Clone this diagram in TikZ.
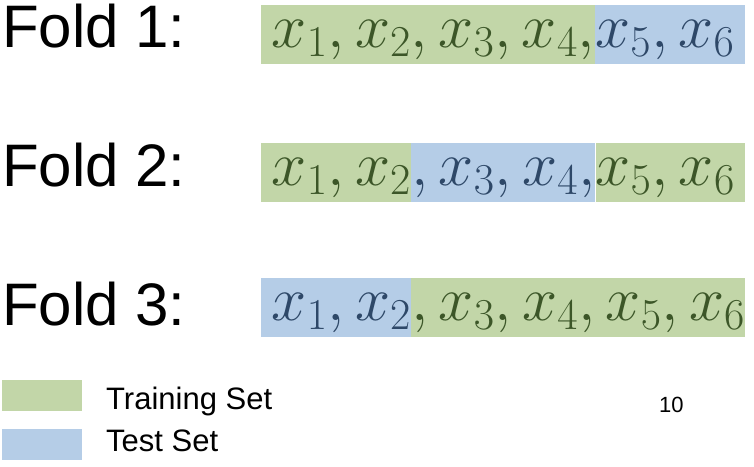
\documentclass[tikz,border=0pt]{standalone}
\usepackage{fix-cm}
\usepackage{fontspec}
\newfontfamily\labelfont{Liberation Sans}
\usetikzlibrary{positioning}
\definecolor{trainfill}{RGB}{194,214,168}
\definecolor{testfill}{RGB}{181,205,231}
\definecolor{traintext}{RGB}{60,86,40}
\definecolor{testtext}{RGB}{46,72,104}

\begin{document}
\begin{tikzpicture}[x=1pt, y=-1pt,
	foldlabel/.style={font=\labelfont\fontsize{60}{60}\selectfont, inner sep=0pt, anchor=base west},
	seg/.style={inner xsep=0pt, inner ysep=0pt, text height=42pt, text depth=17pt, font=\fontsize{63}{63}\selectfont},
	train/.style={seg, fill=trainfill, text=traintext},
	test/.style={seg, fill=testfill, text=testtext},
	legbox/.style={minimum width=80pt, minimum height=31pt, inner sep=0pt, anchor=north west},
	legtext/.style={font=\labelfont\fontsize{31}{31}\selectfont, inner sep=0pt, anchor=base west}]
	\useasboundingbox (0,0) rectangle (754,466);

	% fold 1
	\node[foldlabel] (f1) at (2,47) {Fold 1:};
	\node[train, anchor=base west] (f1a) at (261,47) {$\,x_1, x_2, x_3, x_4,$};
	\node[test, right=0pt of f1a] (f1b) {$x_5, x_6\,$};

	% fold 2
	\node[foldlabel] (f2) at (2,186) {Fold 2:};
	\node[train, anchor=base west] (f2a) at (261,185) {$\,x_1, x_2$};
	\node[test, right=0pt of f2a] (f2b) {$, x_3, x_4,$};
	\node[train, right=0pt of f2b] (f2c) {$x_5, x_6\,$};

	% fold 3
	\node[foldlabel] (f3) at (2,325) {Fold 3:};
	\node[test, anchor=base west] (f3a) at (261,320) {$\,x_1, x_2$};
	\node[train, right=0pt of f3a] (f3b) {$, x_3, x_4, x_5, x_6$\hspace{4pt}};

	% legend
	\node[legbox, fill=trainfill] (ltrain) at (2,380) {};
	\node[legtext] (ltraintxt) at (106,409) {Training Set};
	\node[legbox, fill=testfill] (ltest) at (2,429) {};
	\node[legtext] (ltesttxt) at (106,451) {Test Set};

	\node[legtext, font=\labelfont\fontsize{22}{22}\selectfont] (pagenum) at (659,412) {10};
\end{tikzpicture}
\end{document}
